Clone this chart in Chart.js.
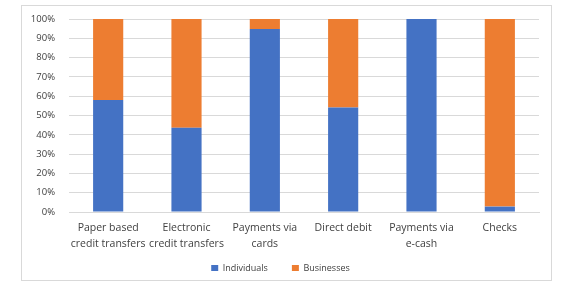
<!DOCTYPE html>
<html>
<head>
<meta charset="utf-8">
<script src="https://cdn.jsdelivr.net/npm/chart.js@4"></script>
<style>
  html, body { margin: 0; padding: 0; background: #fff; }
  #box {
    position: absolute; left: 21px; top: 5px;
    width: 529px; height: 274px;
    border: 1px solid #d9d9d9;
  }
</style>
</head>
<body>
<div id="box"><canvas id="chart"></canvas></div>
<script>
const categories = [
    ['Paper based', 'credit transfers'],
    ['Electronic', 'credit transfers'],
    ['Payments via', 'cards'],
    'Direct debit',
    ['Payments via', 'e-cash'],
    'Checks'
];
const individuals = [58, 43.6, 94.8, 54.2, 100, 2.8];
const businesses = [42, 56.4, 5.2, 45.8, 0, 97.2];
const yTicks = [0, 10, 20, 30, 40, 50, 60, 70, 80, 90, 100];

const font = "'Open Sans', 'Noto Sans', sans-serif";

// legend keeps wide horizontal gaps but takes less vertical room
const legendTweak = {
    id: 'legendTweak',
    beforeInit(chart) {
        const lg = chart.legend;
        if (!lg) return;
        const fit = lg.fit;
        lg.fit = function () { fit.call(this); this.height = 31; };
    },
    afterLayout(chart) {
        const lg = chart.legend;
        if (!lg) return;
        lg.top -= 9;
        lg.bottom -= 9;
    }
};

new Chart(document.getElementById('chart').getContext('2d'), {
    type: 'bar',
    data: {
        labels: categories,
        datasets: [{
            label: 'Individuals',
            data: individuals,
            backgroundColor: '#4472c4'
        }, {
            label: 'Businesses',
            data: businesses,
            backgroundColor: '#ed7d31'
        }]
    },
    plugins: [legendTweak],
    options: {
        responsive: true,
        maintainAspectRatio: false,
        animation: false,
        datasets: { bar: { categoryPercentage: 1, barPercentage: 0.385 } },
        layout: { padding: { top: 13, right: 12, bottom: 0, left: 0 } },
        plugins: {
            tooltip: { enabled: false },
            legend: {
                position: 'bottom',
                labels: {
                    boxWidth: 7, boxHeight: 7, padding: 24,
                    color: '#404040',
                    font: { family: font, size: 9 }
                }
            }
        },
        scales: {
            x: {
                stacked: true,
                grid: { display: false },
                border: { color: '#d9d9d9' },
                ticks: {
                    color: '#404040', maxRotation: 0, autoSkip: false, padding: 0,
                    font: { family: font, size: 10.5, lineHeight: 1.5 }
                },
                afterFit: (s) => { s.height = 37; }
            },
            y: {
                stacked: true,
                min: 0, max: 100,
                afterBuildTicks: (s) => { s.ticks = yTicks.map(v => ({ value: v })); },
                grid: { color: '#d9d9d9', drawTicks: false },
                border: { display: false },
                ticks: {
                    color: '#404040', padding: 14,
                    font: { family: font, size: 9.5 },
                    callback: (v) => v + '%'
                },
                afterFit: (s) => { s.width = 47; s.paddingTop = 5; s.paddingBottom = 5; }
            }
        }
    }
});
</script>
</body>
</html>
